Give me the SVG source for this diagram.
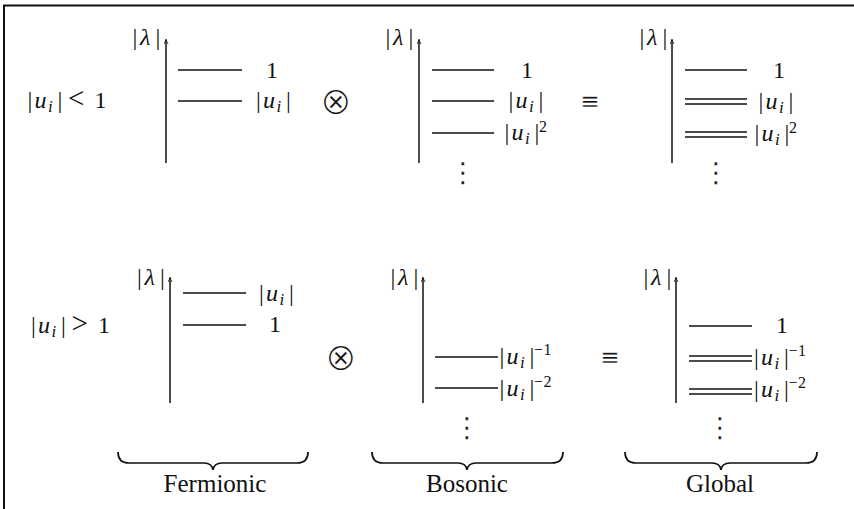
<svg xmlns="http://www.w3.org/2000/svg" width="854" height="509" viewBox="0 0 854 509">
<style>
text{font-family:"Liberation Serif","Times New Roman",serif;font-size:24px;fill:#111}
.it{font-style:italic}
.sub{font-style:italic;font-size:17px}
.sup{font-size:16px}
.rel{font-size:29px}
.mid{text-anchor:middle}
.word{font-size:25px;text-anchor:middle}
.lvl{stroke:#111;stroke-width:1.4;fill:none}
.ax{stroke:#111;stroke-width:1.5;fill:none;marker-end:url(#ah)}
.br{stroke:#111;stroke-width:1.7;fill:none}
.op{font-family:"DejaVu Sans",sans-serif;font-size:38px;text-anchor:middle;stroke:#fff;stroke-width:1.1}
.eq{font-family:"DejaVu Sans",sans-serif;font-size:23px;text-anchor:middle;stroke:#fff;stroke-width:0.3}
.dots{font-family:"DejaVu Sans",sans-serif;font-size:28px;text-anchor:middle;stroke:#fff;stroke-width:0.4}
</style>
<defs>
<marker id="ah" viewBox="0 0 10 10" refX="8" refY="5" markerWidth="5" markerHeight="5" orient="auto" markerUnits="userSpaceOnUse">
<path d="M0,1 Q5,4 10,5 Q5,6 0,9" fill="none" stroke="#111" stroke-width="1.6"/>
</marker>
</defs>
<rect width="854" height="509" fill="#fff"/>
<path d="M4,509 V5.5 H854" fill="none" stroke="#111" stroke-width="2"/>

<g id="cond-top"><text y="108"><tspan x="27.6">|</tspan><tspan class="it" x="34.5">u</tspan><tspan class="sub" x="48" dy="4">i</tspan><tspan x="57.6" dy="-4">|</tspan><tspan class="rel" x="68">&lt;</tspan><tspan x="94.4">1</tspan></text></g>
<g id="cond-bot"><text y="333"><tspan x="31.1">|</tspan><tspan class="it" x="38">u</tspan><tspan class="sub" x="51.5" dy="4">i</tspan><tspan x="61.1" dy="-4">|</tspan><tspan class="rel" x="71.5">&gt;</tspan><tspan x="98">1</tspan></text></g>

<g id="connectors">
<line class="ax" x1="166" y1="163" x2="166" y2="40"/>
<line class="ax" x1="419" y1="163" x2="419" y2="40"/>
<line class="ax" x1="672" y1="163" x2="672" y2="40"/>
<line class="ax" x1="170" y1="403" x2="170" y2="278"/>
<line class="ax" x1="423" y1="403" x2="423" y2="278"/>
<line class="ax" x1="676" y1="403" x2="676" y2="278"/>
</g>

<g id="fermionic-top">
<text y="45"><tspan x="132.6">|</tspan><tspan class="it" x="140">λ</tspan><tspan x="155.6">|</tspan></text>
<line class="lvl" x1="178" y1="70" x2="242" y2="70"/>
<line class="lvl" x1="178" y1="101" x2="242" y2="101"/>
<text class="mid" x="272" y="78">1</text>
<text y="108"><tspan x="256.1">|</tspan><tspan class="it" x="263">u</tspan><tspan class="sub" x="276.5" dy="4">i</tspan><tspan x="286.1" dy="-4">|</tspan></text>
</g>

<g id="otimes-top"><text class="op" x="336" y="114">⊗</text></g>

<g id="bosonic-top">
<text y="45"><tspan x="385.6">|</tspan><tspan class="it" x="393">λ</tspan><tspan x="408.6">|</tspan></text>
<line class="lvl" x1="432" y1="70" x2="494" y2="70"/>
<line class="lvl" x1="432" y1="101" x2="494" y2="101"/>
<line class="lvl" x1="432" y1="133" x2="494" y2="133"/>
<text class="mid" x="527" y="78">1</text>
<text y="108"><tspan x="508.6">|</tspan><tspan class="it" x="515.5">u</tspan><tspan class="sub" x="529" dy="4">i</tspan><tspan x="538.6" dy="-4">|</tspan></text>
<text y="140"><tspan x="504.6">|</tspan><tspan class="it" x="511.5">u</tspan><tspan class="sub" x="525" dy="4">i</tspan><tspan x="534.6" dy="-4">|</tspan><tspan class="sup" x="539" dy="-8">2</tspan></text>
<text class="dots" x="463" y="182">⋮</text>
</g>

<g id="equiv-top"><text class="eq" x="590" y="109">≡</text></g>

<g id="global-top">
<text y="45"><tspan x="639.6">|</tspan><tspan class="it" x="647">λ</tspan><tspan x="662.6">|</tspan></text>
<line class="lvl" x1="685" y1="70" x2="747" y2="70"/>
<line class="lvl" x1="685" y1="99" x2="747" y2="99"/>
<line class="lvl" x1="685" y1="104" x2="747" y2="104"/>
<line class="lvl" x1="685" y1="132" x2="747" y2="132"/>
<line class="lvl" x1="685" y1="137" x2="747" y2="137"/>
<text class="mid" x="779" y="78">1</text>
<text y="109"><tspan x="758.6">|</tspan><tspan class="it" x="765.5">u</tspan><tspan class="sub" x="779" dy="4">i</tspan><tspan x="788.6" dy="-4">|</tspan></text>
<text y="141"><tspan x="754.6">|</tspan><tspan class="it" x="761.5">u</tspan><tspan class="sub" x="775" dy="4">i</tspan><tspan x="784.6" dy="-4">|</tspan><tspan class="sup" x="789" dy="-8">2</tspan></text>
<text class="dots" x="716" y="182">⋮</text>
</g>

<g id="fermionic-bot">
<text y="285"><tspan x="137.1">|</tspan><tspan class="it" x="144.5">λ</tspan><tspan x="160.1">|</tspan></text>
<line class="lvl" x1="183" y1="293" x2="246" y2="293"/>
<line class="lvl" x1="183" y1="325" x2="246" y2="325"/>
<text y="301"><tspan x="259.1">|</tspan><tspan class="it" x="266">u</tspan><tspan class="sub" x="279.5" dy="4">i</tspan><tspan x="289.1" dy="-4">|</tspan></text>
<text class="mid" x="275" y="332">1</text>
<path class="br" d="M118,452 Q118,463 129,463 H204 Q212,463 213,470 Q214,463 222,463 H297 Q308,463 308,452"/>
<text class="word" x="215" y="492">Fermionic</text>
</g>

<g id="otimes-bot"><text class="op" x="341" y="370">⊗</text></g>

<g id="bosonic-bot">
<text y="285"><tspan x="390.6">|</tspan><tspan class="it" x="398">λ</tspan><tspan x="413.6">|</tspan></text>
<line class="lvl" x1="435" y1="357" x2="498" y2="357"/>
<line class="lvl" x1="435" y1="388" x2="498" y2="388"/>
<text y="364"><tspan x="499.6">|</tspan><tspan class="it" x="506.5">u</tspan><tspan class="sub" x="520" dy="4">i</tspan><tspan x="529.6" dy="-4">|</tspan><tspan class="sup" x="534" dy="-9">−</tspan><tspan class="sup" x="543.5">1</tspan></text>
<text y="396"><tspan x="499.6">|</tspan><tspan class="it" x="506.5">u</tspan><tspan class="sub" x="520" dy="4">i</tspan><tspan x="529.6" dy="-4">|</tspan><tspan class="sup" x="534" dy="-9">−</tspan><tspan class="sup" x="543.5">2</tspan></text>
<text class="dots" x="467" y="437">⋮</text>
<path class="br" d="M372,452 Q372,463 383,463 H458 Q466,463 467,470 Q468,463 476,463 H552 Q563,463 563,452"/>
<text class="word" x="467" y="492">Bosonic</text>
</g>

<g id="equiv-bot"><text class="eq" x="610" y="365">≡</text></g>

<g id="global-bot">
<text y="285"><tspan x="643.6">|</tspan><tspan class="it" x="651">λ</tspan><tspan x="666.6">|</tspan></text>
<line class="lvl" x1="689" y1="326" x2="752" y2="326"/>
<line class="lvl" x1="689" y1="356" x2="752" y2="356"/>
<line class="lvl" x1="689" y1="361" x2="752" y2="361"/>
<line class="lvl" x1="689" y1="389" x2="752" y2="389"/>
<line class="lvl" x1="689" y1="394" x2="752" y2="394"/>
<text class="mid" x="782" y="333">1</text>
<text y="365"><tspan x="754.1">|</tspan><tspan class="it" x="761">u</tspan><tspan class="sub" x="774.5" dy="4">i</tspan><tspan x="784.1" dy="-4">|</tspan><tspan class="sup" x="788.5" dy="-9">−</tspan><tspan class="sup" x="798">1</tspan></text>
<text y="397"><tspan x="754.1">|</tspan><tspan class="it" x="761">u</tspan><tspan class="sub" x="774.5" dy="4">i</tspan><tspan x="784.1" dy="-4">|</tspan><tspan class="sup" x="788.5" dy="-9">−</tspan><tspan class="sup" x="798">2</tspan></text>
<text class="dots" x="720" y="437">⋮</text>
<path class="br" d="M625,452 Q625,463 636,463 H712 Q720,463 721,470 Q722,463 730,463 H806 Q817,463 817,452"/>
<text class="word" x="720" y="492">Global</text>
</g>
</svg>
